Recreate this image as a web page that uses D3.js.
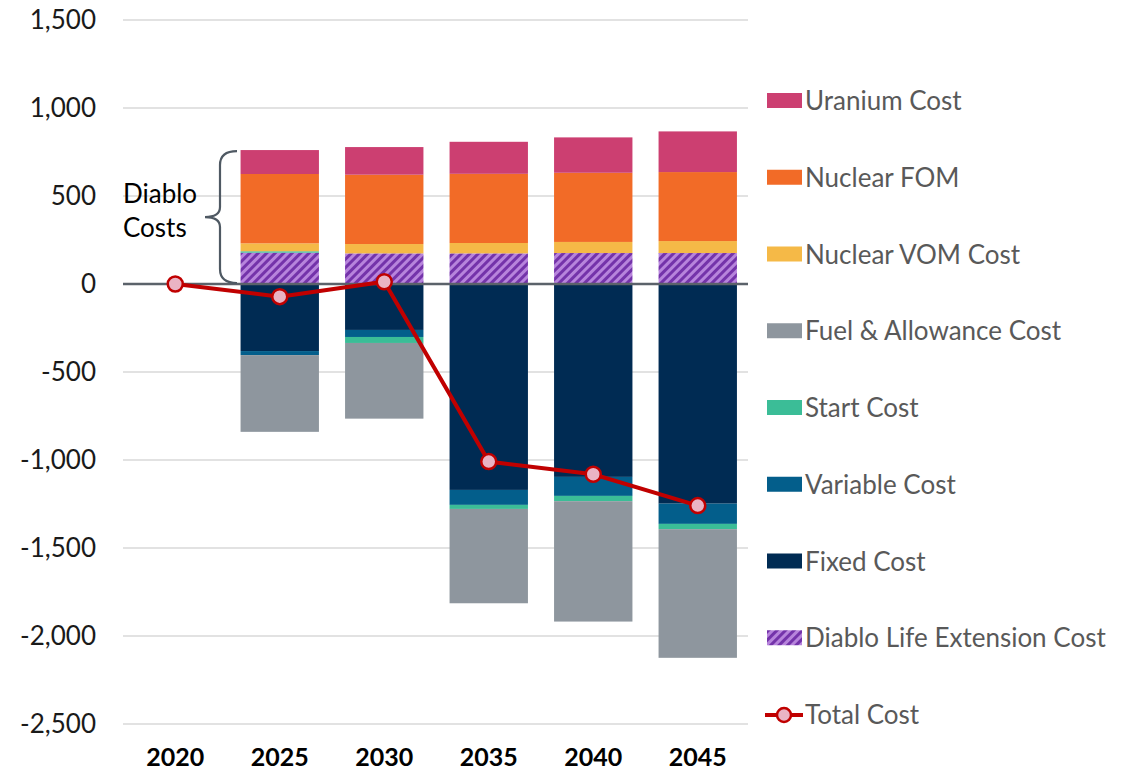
<!DOCTYPE html>
<html>
<head>
<meta charset="utf-8">
<script src="https://cdn.jsdelivr.net/npm/d3@7"></script>
<style>
  body { margin: 0; background: #fff; }
  text { font-family: Lato, "Open Sans", sans-serif; }
</style>
</head>
<body>
<div id="container"></div>
<script>
  // data
  const years = ['2020', '2025', '2030', '2035', '2040', '2045']
  const diabloLife = [0, 178, 174, 174, 176, 176]
  const fixedCost = [0, -381, -261, -1170, -1096, -1248]
  const variableCost = [0, -23, -40, -85, -108, -115]
  const startCost = [0, 8, -34, -23, -30, -30]
  const fuelCost = [0, -436, -430, -536, -684, -731]
  const nuclearVom = [0, 45, 53, 59, 63, 68]
  const nuclearFom = [0, 394, 394, 393, 393, 392]
  const uraniumCost = [0, 136, 157, 182, 201, 231]
  const totalCost = [0, -72, 13, -1009, -1081, -1259]
  const yTicks = [1500, 1000, 500, 0, -500, -1000, -1500, -2000, -2500]

  // stacking order (bottom series first), same as the spreadsheet
  const series = [
    { key: 'Diablo Life Extension Cost', values: diabloLife, color: 'url(#hatch)' },
    { key: 'Fixed Cost', values: fixedCost, color: '#002b53' },
    { key: 'Variable Cost', values: variableCost, color: '#035e8b' },
    { key: 'Start Cost', values: startCost, color: '#3bbd97' },
    { key: 'Fuel & Allowance Cost', values: fuelCost, color: '#8e969e' },
    { key: 'Nuclear VOM Cost', values: nuclearVom, color: '#f5b947' },
    { key: 'Nuclear FOM', values: nuclearFom, color: '#f26b27' },
    { key: 'Uranium Cost', values: uraniumCost, color: '#cc3f71' }
  ]

  const width = 1134
  const height = 775
  const left = 123
  const right = 750

  const table = years.map((y, i) => {
    const row = { year: y }
    series.forEach((s) => { row[s.key] = s.values[i] })
    return row
  })

  const svg = d3.select('#container')
    .append('svg')
    .attr('width', width)
    .attr('height', height)

  const defs = svg.append('defs')
  const hatch = defs.append('pattern')
    .attr('id', 'hatch')
    .attr('patternUnits', 'userSpaceOnUse')
    .attr('width', 6)
    .attr('height', 6)
    .attr('patternTransform', 'rotate(45)')
  hatch.append('rect').attr('width', 6).attr('height', 6).attr('fill', '#b784dc')
  hatch.append('rect').attr('width', 3).attr('height', 6).attr('fill', '#7433aa')

  const xScale = d3.scaleBand()
    .domain(years)
    .range([left, right])
    .paddingInner(0.25)
    .paddingOuter(0.125)

  const yScale = d3.scaleLinear()
    .domain([-2500, 1500])
    .range([724, 20])

  // grid lines
  svg.append('g')
    .selectAll('line')
    .data(yTicks.filter((t) => t !== 0))
    .enter()
    .append('line')
    .attr('x1', left)
    .attr('x2', right - 2)
    .attr('y1', (d) => yScale(d))
    .attr('y2', (d) => yScale(d))
    .attr('stroke', '#d9d9d9')
    .attr('stroke-width', 1.5)

  // y axis labels (plain hyphen for negatives, like the original)
  const fmt = d3.format(',')
  const yAxis = svg.append('g')
    .attr('transform', 'translate(96,0)')
    .call(d3.axisLeft(yScale).tickValues(yTicks).tickSize(0).tickPadding(0)
      .tickFormat((d) => fmt(d).replace('\u2212', '-')))
  yAxis.select('.domain').remove()
  yAxis.selectAll('text')
    .attr('font-size', 26)
    .attr('fill', '#1a1a1a')
    .style('font-family', 'Lato, sans-serif')

  // x axis labels
  const xAxis = svg.append('g')
    .attr('transform', 'translate(0,752)')
    .call(d3.axisBottom(xScale).tickSize(0).tickPadding(0))
  xAxis.select('.domain').remove()
  xAxis.selectAll('text')
    .attr('font-size', 25)
    .attr('font-weight', 'bold')
    .attr('fill', '#000')
    .attr('dy', '0.55em')
    .style('font-family', 'Lato, sans-serif')

  // stacked bars
  const stacked = d3.stack()
    .keys(series.map((s) => s.key))
    .offset(d3.stackOffsetDiverging)(table)

  svg.append('g')
    .selectAll('g')
    .data(stacked)
    .enter()
    .append('g')
    .attr('fill', (d, i) => series[i].color)
    .selectAll('rect')
    .data((d) => d)
    .enter()
    .append('rect')
    .attr('x', (d) => xScale(d.data.year))
    .attr('width', xScale.bandwidth())
    .attr('y', (d) => yScale(Math.max(d[0], d[1])))
    .attr('height', (d) => Math.abs(yScale(d[0]) - yScale(d[1])))

  // zero line
  svg.append('line')
    .attr('x1', left)
    .attr('x2', right - 2)
    .attr('y1', yScale(0))
    .attr('y2', yScale(0))
    .attr('stroke', '#5b626a')
    .attr('stroke-width', 2.5)

  // total cost line
  const line = d3.line()
    .x((d, i) => xScale(years[i]) + xScale.bandwidth() / 2)
    .y((d) => yScale(d))

  svg.append('path')
    .datum(totalCost)
    .attr('d', line)
    .attr('fill', 'none')
    .attr('stroke', '#c00000')
    .attr('stroke-width', 4)

  svg.append('g')
    .selectAll('circle')
    .data(totalCost)
    .enter()
    .append('circle')
    .attr('cx', (d, i) => xScale(years[i]) + xScale.bandwidth() / 2)
    .attr('cy', (d) => yScale(d))
    .attr('r', 7.5)
    .attr('fill', '#eab3c4')
    .attr('stroke', '#c00000')
    .attr('stroke-width', 2.5)

  // brace annotation
  const bTop = yScale(755)
  const bBot = yScale(0) - 1
  const bMid = (bTop + bBot) / 2
  svg.append('path')
    .attr('d', `M237,${bTop} Q220,${bTop} 220,${bTop + 14} L220,${bMid - 10} Q220,${bMid} 205,${bMid} Q220,${bMid} 220,${bMid + 10} L220,${bBot - 14} Q220,${bBot} 237,${bBot}`)
    .attr('fill', 'none')
    .attr('stroke', '#4f5963')
    .attr('stroke-width', 2.2)

  svg.append('text')
    .attr('x', 123)
    .attr('y', 203)
    .attr('font-size', 26)
    .attr('fill', '#000')
    .text('Diablo')
  svg.append('text')
    .attr('x', 123)
    .attr('y', 237)
    .attr('font-size', 26)
    .attr('fill', '#000')
    .text('Costs')

  // legend
  const legendItems = series.slice().reverse()
  const rowY = (i) => 101 + i * 76.75
  const legend = svg.append('g')

  const items = legend.selectAll('g')
    .data(legendItems)
    .enter()
    .append('g')
    .attr('transform', (d, i) => `translate(767, ${rowY(i)})`)

  items.append('rect')
    .attr('x', 0)
    .attr('y', -8)
    .attr('width', 35)
    .attr('height', 15)
    .attr('fill', (d) => d.color)

  items.append('text')
    .attr('x', 38)
    .attr('y', 9)
    .attr('font-size', 26)
    .attr('fill', '#595959')
    .text((d) => d.key)

  const totalItem = legend.append('g')
    .attr('transform', `translate(767, ${rowY(8)})`)
  totalItem.append('line')
    .attr('x1', -2)
    .attr('x2', 36)
    .attr('stroke', '#c00000')
    .attr('stroke-width', 4)
  totalItem.append('circle')
    .attr('cx', 17)
    .attr('r', 7)
    .attr('fill', '#eab3c4')
    .attr('stroke', '#c00000')
    .attr('stroke-width', 2.5)
  totalItem.append('text')
    .attr('x', 38)
    .attr('y', 9)
    .attr('font-size', 26)
    .attr('fill', '#595959')
    .text('Total Cost')
</script>
</body>
</html>
